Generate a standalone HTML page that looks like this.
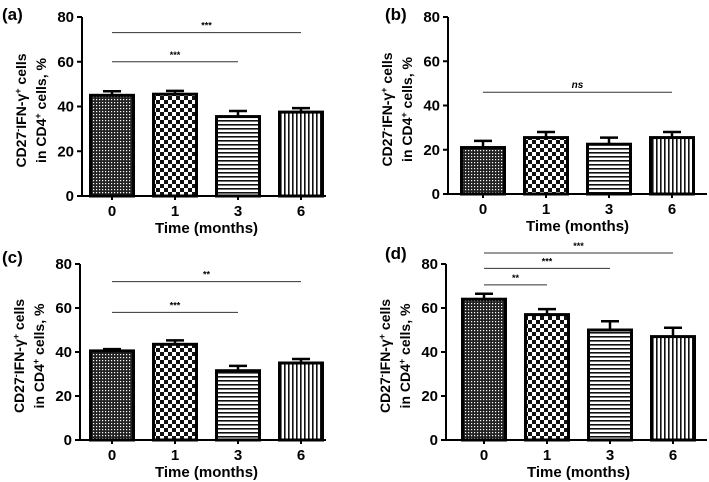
<!DOCTYPE html>
<html><head><meta charset="utf-8"><style>
body{margin:0;background:#fff;}
svg{display:block;font-family:"Liberation Sans",sans-serif;}
</style></head><body>
<svg id="fig" width="709" height="482" viewBox="0 0 709 482">
<defs>
<pattern id="p0" width="3" height="3" patternUnits="userSpaceOnUse"><rect width="3" height="3" fill="#222"/><rect width="1.2" height="1.2" fill="#fff"/></pattern>
<pattern id="p1" width="8" height="8" patternUnits="userSpaceOnUse"><rect width="8" height="8" fill="#fff"/><rect width="4" height="4" fill="#111"/><rect x="4" y="4" width="4" height="4" fill="#111"/></pattern>
<pattern id="p2" width="4" height="4" patternUnits="userSpaceOnUse"><rect width="4" height="4" fill="#fff"/><rect width="4" height="1.6" fill="#111"/></pattern>
<pattern id="p3" width="4" height="4" patternUnits="userSpaceOnUse"><rect width="4" height="4" fill="#fff"/><rect width="1.6" height="4" fill="#111"/></pattern>
</defs>
</svg>
<script>
const categories = ["0","1","3","6"];
const yTicks = [0,20,40,60,80];
const valuesA = [45,45.5,35.5,37.5];
const errorsA = [1.8,1.5,2.5,1.8];
const valuesB = [21,25.5,22.5,25.5];
const errorsB = [3,2.5,3,2.5];
const valuesC = [40.5,43.5,31.5,35];
const errorsC = [0.8,1.8,2.2,1.8];
const valuesD = [64,57,50,47];
const errorsD = [2.5,2.5,4,4];
const sigA = [[0,2,60,"***"],[0,3,73,"***"]];
const sigB = [[0,3,46,"ns"]];
const sigC = [[0,2,58,"***"],[0,3,72,"**"]];
const sigD = [[0,1,70.5,"**"],[0,2,78,"***"],[0,3,85,"***"]];

const NS="http://www.w3.org/2000/svg";
const svg=document.getElementById('fig');
function mk(tag,attrs,parent){const e=document.createElementNS(NS,tag);for(const k in attrs)e.setAttribute(k,attrs[k]);(parent||svg).appendChild(e);return e;}

function panel(label,lx,ly,ax,y0,y80,first,right,vals,errs,sigs,id){
  const g=mk('g',{});
  
  
  const ys=v=>y0-(v/80)*(y0-y80);
  const xs=i=>first+i*63;
  const t=mk('text',{x:lx,y:ly,'font-size':17,'font-weight':'bold'},g);t.textContent=label;
  
  
  vals.forEach((v,i)=>{
    const x=xs(i),w=43;
    const eb=mk('path',{d:`M${x} ${ys(v)} V${ys(v+errs[i])} M${x-9} ${ys(v+errs[i])} H${x+9}`,stroke:'#000','stroke-width':2.5,fill:'none'},g);
    
    
    const r=mk('rect',{x:x-w/2,y:ys(v),width:w,height:y0-ys(v),fill:`url(#p${i})`,stroke:'#000','stroke-width':3},g);
    
    
    const tl=mk('text',{x:x,y:y0+20,'font-size':15,'font-weight':'bold','text-anchor':'middle'},g);tl.textContent=categories[i];
    
    
    mk('line',{x1:x,x2:x,y1:y0,y2:y0+4,stroke:'#000','stroke-width':2},g);
  });
  const axes=mk('path',{d:`M${ax} ${y80} V${y0} H${right}`,stroke:'#000','stroke-width':2,fill:'none'},g);
  
  
  yTicks.forEach(v=>{
    mk('line',{x1:ax-5,x2:ax,y1:ys(v),y2:ys(v),stroke:'#000','stroke-width':2},g);
    const tt=mk('text',{x:ax-8,y:ys(v)+5,'font-size':15,'font-weight':'bold','text-anchor':'end'},g);tt.textContent=v;
    
    
  });
  const yc=(y0+y80)/2+4, tx=ax-56;
  const yt=mk('text',{transform:`translate(${tx},${yc}) rotate(-90)`,'font-size':14,'font-weight':'bold','text-anchor':'middle'},g);
  
  
  const s1=mk('tspan',{x:0,y:0},yt);s1.innerHTML='CD27<tspan dy="-5" font-size="9">-</tspan><tspan dy="5">IFN-γ</tspan><tspan dy="-5" font-size="9">+</tspan><tspan dy="5"> cells</tspan>';
  const s2=mk('tspan',{x:0,y:20},yt);s2.innerHTML='in CD4<tspan dy="-5" font-size="9">+</tspan><tspan dy="5"> cells, %</tspan>';
  const xt=mk('text',{x:(first+xs(3))/2,y:y0+37,'font-size':15,'font-weight':'bold','text-anchor':'middle'},g);xt.textContent='Time (months)';
  
  
  sigs.forEach(s=>{
    const l=mk('line',{x1:xs(s[0]),x2:xs(s[1]),y1:ys(s[2]),y2:ys(s[2]),stroke:'#333','stroke-width':1},g);
    
    
    const st=mk('text',{x:(xs(s[0])+xs(s[1]))/2,y:ys(s[2])-4,'font-size':s[3]=='ns'?10:9,'font-style':s[3]=='ns'?'italic':'normal','font-weight':'bold','text-anchor':'middle'},g);st.textContent=s[3];
    
    
  });
}
panel('(a)',2,20,82,196,17,112,326,valuesA,errorsA,sigA,'a');
panel('(b)',385,20,448,194,17,483,707,valuesB,errorsB,sigB,'b');
panel('(c)',2,263,80,440,264,112,326,valuesC,errorsC,sigC,'c');
panel('(d)',385,259,446,440,264,484,707,valuesD,errorsD,sigD,'d');
</script>
</body></html>
